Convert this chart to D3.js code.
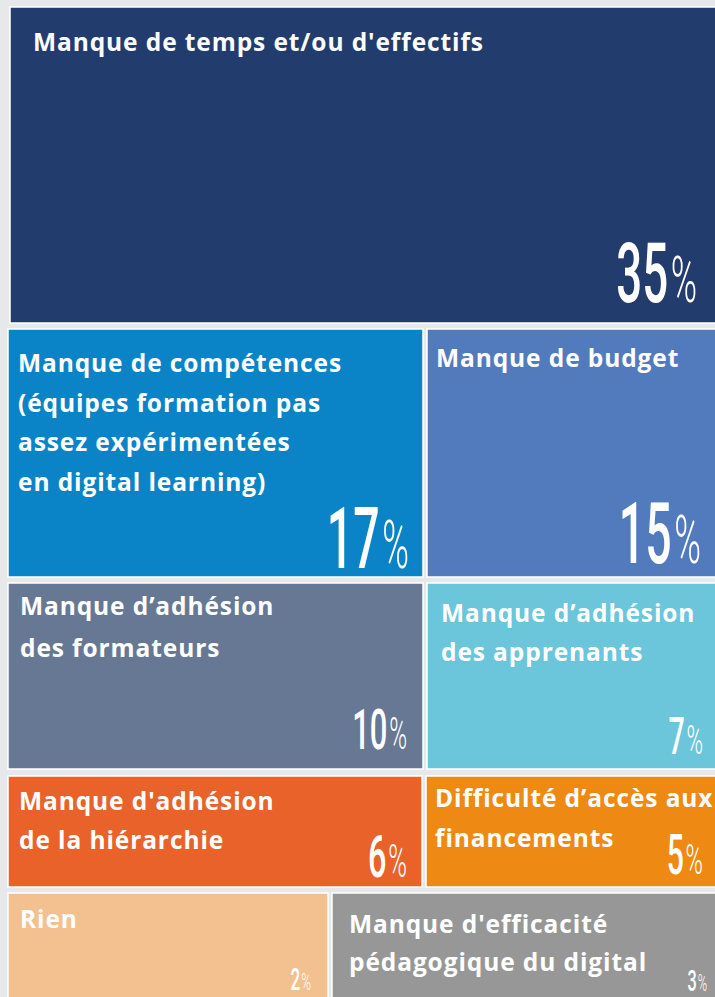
<!DOCTYPE html>
<html>
<head>
<meta charset="utf-8">
<script src="https://cdn.jsdelivr.net/npm/d3@7"></script>
<style>
  body { margin: 0; background: #e7e8ea; }
  svg { display: block; }
</style>
</head>
<body>
<svg width="715" height="997"></svg>
<script>
// data
var categories = [
    ["Manque de temps et/ou d'effectifs"],
    ["Manque de compétences", "(équipes formation pas", "assez expérimentées", "en digital learning)"],
    ["Manque de budget"],
    ["Manque d’adhésion", "des formateurs"],
    ["Manque d’adhésion", "des apprenants"],
    ["Manque d'adhésion", "de la hiérarchie"],
    ["Difficulté d’accès aux", "financements"],
    ["Rien"],
    ["Manque d'efficacité", "pédagogique du digital"]
];
var values = [35, 17, 15, 10, 7, 6, 5, 2, 3];
var colors = ["#233c6e", "#0a84c6", "#517bbd", "#667893", "#6bc5db",
              "#e8622a", "#ee8a14", "#f3c08f", "#979797"];

// hand layout: rows of the tile grid (which tiles sit in which row)
var rows = [[0], [1, 2], [3, 4], [5, 6], [7, 8]];

var svg = d3.select("svg"),
    width = +svg.attr("width"),
    height = +svg.attr("height");

// row edges and column splits in pixels
var rowEdges = [[7, 323], [329, 577], [583, 769], [776, 887], [893, 1000]];
var splitX = [null, 425, 425, 424, 330];
var gap = 4;
var leftX = [10, 8, 8, 8, 8];

// label placement and size of the percentage per tile
var labelPos = [[33, 51], [18, 372], [436, 367], [20, 615], [441, 622], [19, 810], [435, 807], [20, 928], [349, 933]];
var lineH = [40, 39.7, 40, 41.5, 38.5, 39, 40, 40, 37.5];
var pctPos = [[697, 302], [409, 568], [701, 563], [407, 749], [703, 754], [407, 877], [703, 874], [311, 990], [707, 991]];
var pctHeight = [59, 60, 60, 40, 37, 42, 39, 22, 21];

var tiles = [];
rows.forEach(function (r, ri) {
    r.forEach(function (idx, k) {
        var x0 = k === 0 ? leftX[ri] : splitX[ri] + gap / 2,
            x1 = (k === r.length - 1) ? width + 2 : splitX[ri] - gap / 2;
        tiles.push({ i: idx, x0: x0, x1: x1, y0: rowEdges[ri][0], y1: rowEdges[ri][1] });
    });
});

var g = svg.selectAll(".tile")
    .data(tiles)
    .enter().append("g")
    .attr("class", "tile");

g.append("rect")
    .attr("x", function (d) { return d.x0; })
    .attr("y", function (d) { return d.y0; })
    .attr("width", function (d) { return d.x1 - d.x0; })
    .attr("height", function (d) { return d.y1 - d.y0; })
    .attr("fill", function (d) { return colors[d.i]; })
    .attr("stroke", "#ffffff")
    .attr("stroke-width", 1.5);

// category labels
g.append("text")
    .attr("x", function (d) { return labelPos[d.i][0]; })
    .attr("y", function (d) { return labelPos[d.i][1]; })
    .attr("fill", "#ffffff")
    .style("font", "700 24.5px 'Open Sans', sans-serif")
    .style("letter-spacing", "0.9px")
    .selectAll("tspan")
    .data(function (d) {
        return categories[d.i].map(function (t, j) { return { t: t, j: j, i: d.i }; });
    })
    .enter().append("tspan")
    .attr("x", function (d) { return labelPos[d.i][0]; })
    .attr("dy", function (d) { return d.j === 0 ? 0 : lineH[d.i]; })
    .text(function (d) { return d.t; });

// percentages, condensed by squeezing the glyphs horizontally
var pct = g.append("text")
    .attr("transform", function (d) {
        return "translate(" + pctPos[d.i][0] + "," + pctPos[d.i][1] + ") scale(0.55,1)";
    })
    .attr("text-anchor", "end")
    .attr("fill", "#ffffff")
    .style("font-family", "Roboto, sans-serif")
    .style("font-weight", 500);

pct.append("tspan")
    .style("font-size", function (d) { return (pctHeight[d.i] / 0.711) + "px"; })
    .text(function (d) { return values[d.i]; });

pct.append("tspan")
    .attr("dx", function (d) { return pctHeight[d.i] * 0.08; })
    .style("font-size", function (d) { return (pctHeight[d.i] * 0.78 / 0.711) + "px"; })
    .style("font-weight", 300)
    .text("%");
</script>
</body>
</html>
